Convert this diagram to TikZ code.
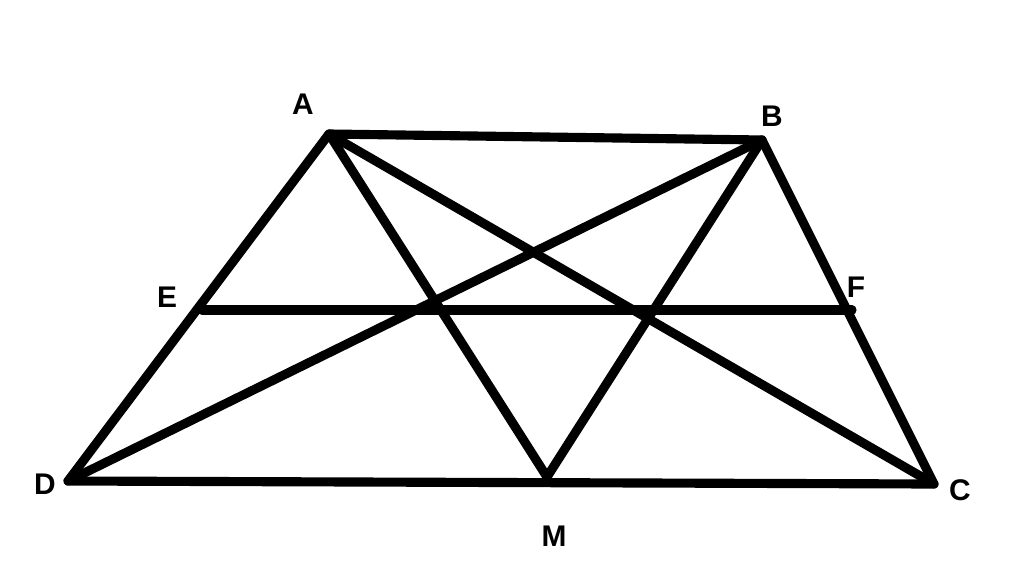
\documentclass[tikz,border=0pt]{standalone}
\usepackage{fontspec}
\setmainfont{Liberation Sans}
\usetikzlibrary{calc}
\tikzset{
	x=0.02cm, y=-0.02cm,
	seg/.style={
		line width=5.2pt,
		line cap=round,
		line join=round
	},
	lbl/.style={
		font=\fontsize{17}{20}\selectfont\bfseries,
		inner sep=0pt
	}
}
\begin{document}
\begin{tikzpicture}
		\useasboundingbox (0,0) rectangle (1024,582);
		\coordinate (A) at (329,134);
		\coordinate (B) at (762,140);
		\coordinate (C) at (934,484);
		\coordinate (D) at (68,481);
		\coordinate (E) at (202,310);
		\coordinate (F) at (852,310);
		\coordinate (M) at (547,477);

		\draw[seg] (D) -- (A) -- (B) -- (C) -- cycle;
		\draw[seg] (A) -- (C);
		\draw[seg] (B) -- (D);
		\draw[seg] (A) -- (M) -- (B);
		\draw[seg] (E) -- (F);

		\node[lbl] (lA) at (303,104) {A};
		\node[lbl] (lB) at (772,116) {B};
		\node[lbl] (lC) at (960,490) {C};
		\node[lbl] (lD) at (45,484) {D};
		\node[lbl] (lE) at (167,297) {E};
		\node[lbl] (lF) at (856,287) {F};
		\node[lbl] (lM) at (554,536) {M};
	\end{tikzpicture}
\end{document}
